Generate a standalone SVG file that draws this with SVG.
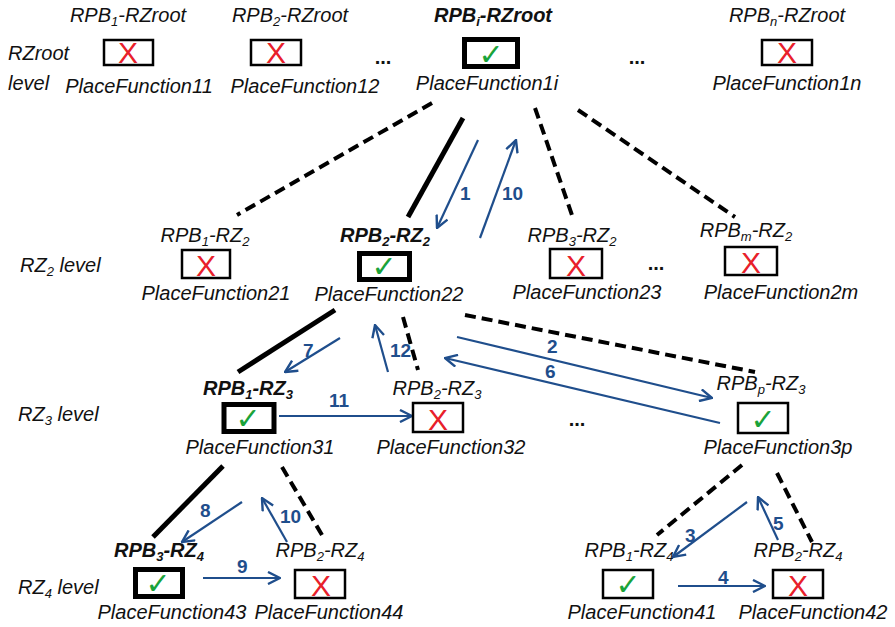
<svg xmlns="http://www.w3.org/2000/svg" width="895" height="627" viewBox="0 0 895 627">
  <style>
    .t { font-family: "Liberation Sans", Arial, sans-serif; font-style: italic; font-size: 20px; fill: #111; text-anchor: middle; }
    .lv { font-family: "Liberation Sans", Arial, sans-serif; font-style: italic; font-size: 20px; fill: #111; }
    .b { font-weight: bold; }
    .s { font-size: 13px; }
    .box { fill: #fff; stroke: #000; stroke-width: 2.5; }
    .sel { stroke-width: 5; }
    .x { font-family: "Liberation Sans", Arial, sans-serif; font-size: 30px; fill: #e8202a; text-anchor: middle; }
    .ck { font-family: "DejaVu Sans", sans-serif; font-size: 30px; fill: #1aa33a; text-anchor: middle; }
    .dots { font-family: "Liberation Sans", Arial, sans-serif; font-weight: bold; font-size: 20px; fill: #111; text-anchor: middle; }
    .solid { stroke: #000; stroke-width: 5; fill: none; }
    .dash { stroke: #000; stroke-width: 4; stroke-dasharray: 11 6; fill: none; }
    .arr { stroke: #1f4e8c; stroke-width: 2.2; fill: none; marker-end: url(#head); }
    .num { font-family: "Liberation Sans", Arial, sans-serif; font-weight: bold; font-size: 19px; fill: #1f4e8c; }
  </style>
  <defs>
    <marker id="head" markerUnits="userSpaceOnUse" viewBox="0 0 14 14" markerWidth="14" markerHeight="14" refX="13" refY="7" orient="auto">
      <path d="M1,1 L13,7 L1,13" stroke="#1f4e8c" stroke-width="2.4" fill="none"/>
    </marker>
  </defs>
  <rect width="895" height="627" fill="#fff"/>

  <!-- level captions -->
  <g id="levels">
    <text class="lv" x="8" y="60">RZroot</text>
    <text class="lv" x="8" y="90">level</text>
    <text class="lv" x="20" y="272">RZ<tspan class="s" dy="4">2</tspan><tspan dy="-4"> level</tspan></text>
    <text class="lv" x="18" y="421">RZ<tspan class="s" dy="4">3</tspan><tspan dy="-4"> level</tspan></text>
    <text class="lv" x="18" y="594">RZ<tspan class="s" dy="4">4</tspan><tspan dy="-4"> level</tspan></text>
  </g>

  <!-- connectors -->
  <g id="connectors">
    <line class="dash" x1="432" y1="103" x2="237" y2="215"/>
    <line class="solid" x1="463" y1="118" x2="408" y2="217"/>
    <line class="dash" x1="535" y1="108" x2="573" y2="218"/>
    <line class="dash" x1="578" y1="110" x2="735" y2="217"/>
    <line class="solid" x1="335" y1="310" x2="238" y2="372"/>
    <line class="dash" x1="403" y1="317" x2="418" y2="370"/>
    <line class="dash" x1="465" y1="315" x2="755" y2="372"/>
    <line class="solid" x1="223" y1="466" x2="153" y2="537"/>
    <line class="dash" x1="282" y1="467" x2="322" y2="535"/>
    <line class="dash" x1="742" y1="465" x2="657" y2="535"/>
    <line class="dash" x1="777" y1="473" x2="812" y2="542"/>

    <line class="arr" x1="478" y1="140" x2="437" y2="228"/>
    <line class="arr" x1="480" y1="238" x2="516" y2="140"/>
    <line class="arr" x1="340" y1="338" x2="285" y2="372"/>
    <line class="arr" x1="388" y1="372" x2="375" y2="325"/>
    <line class="arr" x1="279" y1="416" x2="412" y2="416"/>
    <line class="arr" x1="457" y1="337" x2="712" y2="398"/>
    <line class="arr" x1="720" y1="423" x2="445" y2="358"/>
    <line class="arr" x1="242" y1="502" x2="182" y2="542"/>
    <line class="arr" x1="287" y1="542" x2="262" y2="498"/>
    <line class="arr" x1="203" y1="578" x2="280" y2="578"/>
    <line class="arr" x1="747" y1="502" x2="673" y2="557"/>
    <line class="arr" x1="778" y1="540" x2="758" y2="497"/>
    <line class="arr" x1="678" y1="586" x2="765" y2="586"/>

    <text class="num" x="460" y="200">1</text>
    <text class="num" x="502" y="200">10</text>
    <text class="num" x="303" y="357">7</text>
    <text class="num" x="390" y="357">12</text>
    <text class="num" x="329" y="407">11</text>
    <text class="num" x="547" y="353">2</text>
    <text class="num" x="545" y="378">6</text>
    <text class="num" x="200" y="517">8</text>
    <text class="num" x="280" y="523">10</text>
    <text class="num" x="237" y="573">9</text>
    <text class="num" x="685" y="542">3</text>
    <text class="num" x="773" y="530">5</text>
    <text class="num" x="718" y="584">4</text>
  </g>

  <!-- RZroot level -->
  <g id="pf11">
    <text class="t" x="128" y="22">RPB<tspan class="s" dy="4">1</tspan><tspan dy="-4">-RZroot</tspan></text>
    <rect class="box" x="104" y="40" width="49" height="25"/>
    <text class="x" x="128" y="63">X</text>
    <text class="t" x="139" y="93">PlaceFunction11</text>
  </g>
  <g id="pf12">
    <text class="t" x="290" y="22">RPB<tspan class="s" dy="4">2</tspan><tspan dy="-4">-RZroot</tspan></text>
    <rect class="box" x="251" y="40" width="50" height="25"/>
    <text class="x" x="276" y="63">X</text>
    <text class="t" x="305" y="93">PlaceFunction12</text>
  </g>
  <text class="dots" x="383" y="64">...</text>
  <g id="pf1i">
    <text class="t b" x="493" y="22">RPB<tspan class="s" dy="4">i</tspan><tspan dy="-4">-RZroot</tspan></text>
    <rect class="box sel" x="464.5" y="39.5" width="53" height="27"/>
    <text class="ck" x="491" y="65">✓</text>
    <text class="t" x="487" y="90">PlaceFunction1i</text>
  </g>
  <text class="dots" x="637" y="64">...</text>
  <g id="pf1n">
    <text class="t" x="787" y="22">RPB<tspan class="s" dy="4">n</tspan><tspan dy="-4">-RZroot</tspan></text>
    <rect class="box" x="762" y="40" width="50" height="25"/>
    <text class="x" x="787" y="63">X</text>
    <text class="t" x="787" y="90">PlaceFunction1n</text>
  </g>

  <!-- RZ2 level -->
  <g id="pf21">
    <text class="t" x="205" y="242">RPB<tspan class="s" dy="4">1</tspan><tspan dy="-4">-RZ</tspan><tspan class="s" dy="4">2</tspan></text>
    <rect class="box" x="182" y="250" width="48" height="28"/>
    <text class="x" x="206" y="276">X</text>
    <text class="t" x="216" y="300">PlaceFunction21</text>
  </g>
  <g id="pf22">
    <text class="t b" x="385" y="242">RPB<tspan class="s" dy="4">2</tspan><tspan dy="-4">-RZ</tspan><tspan class="s" dy="4">2</tspan></text>
    <rect class="box sel" x="359.5" y="253.5" width="50" height="26"/>
    <text class="ck" x="384" y="277">✓</text>
    <text class="t" x="389" y="301">PlaceFunction22</text>
  </g>
  <g id="pf23">
    <text class="t" x="572" y="242">RPB<tspan class="s" dy="4">3</tspan><tspan dy="-4">-RZ</tspan><tspan class="s" dy="4">2</tspan></text>
    <rect class="box" x="550" y="249" width="52" height="29"/>
    <text class="x" x="576" y="276">X</text>
    <text class="t" x="587" y="299">PlaceFunction23</text>
  </g>
  <text class="dots" x="656" y="270">...</text>
  <g id="pf2m">
    <text class="t" x="746" y="237">RPB<tspan class="s" dy="4">m</tspan><tspan dy="-4">-RZ</tspan><tspan class="s" dy="4">2</tspan></text>
    <rect class="box" x="725" y="247" width="52" height="28"/>
    <text class="x" x="751" y="273">X</text>
    <text class="t" x="781" y="299">PlaceFunction2m</text>
  </g>

  <!-- RZ3 level -->
  <g id="pf31">
    <text class="t b" x="248" y="395">RPB<tspan class="s" dy="4">1</tspan><tspan dy="-4">-RZ</tspan><tspan class="s" dy="4">3</tspan></text>
    <rect class="box sel" x="224" y="404.5" width="50" height="27"/>
    <text class="ck" x="248" y="429">✓</text>
    <text class="t" x="260" y="454">PlaceFunction31</text>
  </g>
  <g id="pf32">
    <text class="t" x="437" y="395">RPB<tspan class="s" dy="4">2</tspan><tspan dy="-4">-RZ</tspan><tspan class="s" dy="4">3</tspan></text>
    <rect class="box" x="413" y="403" width="50" height="29"/>
    <text class="x" x="438" y="430">X</text>
    <text class="t" x="451" y="454">PlaceFunction32</text>
  </g>
  <text class="dots" x="577" y="426">...</text>
  <g id="pf3p">
    <text class="t" x="761" y="390">RPB<tspan class="s" dy="4">p</tspan><tspan dy="-4">-RZ</tspan><tspan class="s" dy="4">3</tspan></text>
    <rect class="box" x="738" y="403" width="50" height="30"/>
    <text class="ck" x="763" y="430">✓</text>
    <text class="t" x="778" y="454">PlaceFunction3p</text>
  </g>

  <!-- RZ4 level -->
  <g id="pf43">
    <text class="t b" x="159" y="557">RPB<tspan class="s" dy="4">3</tspan><tspan dy="-4">-RZ</tspan><tspan class="s" dy="4">4</tspan></text>
    <rect class="box sel" x="135.5" y="569.5" width="47" height="27"/>
    <text class="ck" x="158" y="594">✓</text>
    <text class="t" x="172" y="619">PlaceFunction43</text>
  </g>
  <g id="pf44">
    <text class="t" x="320" y="557">RPB<tspan class="s" dy="4">2</tspan><tspan dy="-4">-RZ</tspan><tspan class="s" dy="4">4</tspan></text>
    <rect class="box" x="295" y="570" width="50" height="28"/>
    <text class="x" x="321" y="596">X</text>
    <text class="t" x="329" y="619">PlaceFunction44</text>
  </g>
  <g id="pf41">
    <text class="t" x="629" y="557">RPB<tspan class="s" dy="4">1</tspan><tspan dy="-4">-RZ</tspan><tspan class="s" dy="4">4</tspan></text>
    <rect class="box" x="603" y="570" width="50" height="28"/>
    <text class="ck" x="628" y="595">✓</text>
    <text class="t" x="642" y="619">PlaceFunction41</text>
  </g>
  <g id="pf42">
    <text class="t" x="798" y="557">RPB<tspan class="s" dy="4">2</tspan><tspan dy="-4">-RZ</tspan><tspan class="s" dy="4">4</tspan></text>
    <rect class="box" x="773" y="570" width="50" height="28"/>
    <text class="x" x="798" y="596">X</text>
    <text class="t" x="813" y="619">PlaceFunction42</text>
  </g>
</svg>
